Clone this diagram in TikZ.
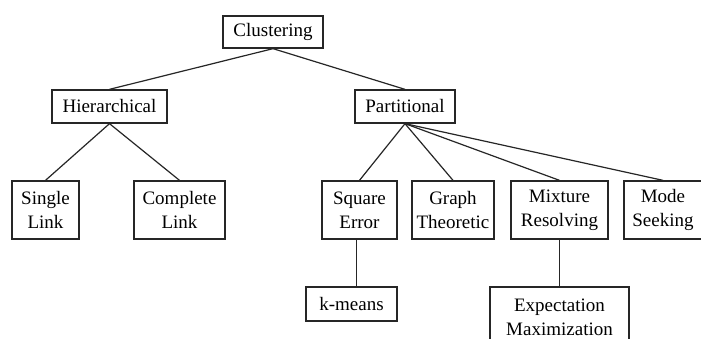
\documentclass[tikz,border=0pt]{standalone}
\usepackage{fontspec}
\setmainfont{Liberation Serif}
\usepackage{tikz}
\usetikzlibrary{calc}

\tikzset{
	box/.style={draw=black!85, line width=1.3pt, inner sep=0pt, align=center,
		font=\fontsize{19}{24}\selectfont},
	link/.style={draw=black!85, line width=1.2pt}
}

\begin{document}
\begin{tikzpicture}[x=1pt,y=-1pt]
				\useasboundingbox[fill=white] (0,0) rectangle (701,339);
				
				\node[box, minimum width=100pt, minimum height=32pt] (clust) at (273,32) {Clustering};
				\node[box, minimum width=115pt, minimum height=33pt] (hier) at (109.5,106.5) {Hierarchical};
				\node[box, minimum width=100pt, minimum height=33pt] (part) at (405,106.5) {Partitional};
				
				\foreach \name/\x/\w/\txt in {single/45.5/67/Single\\Link, complete/179.5/91/Complete\\Link, sqerr/359.5/75/Square\\Error, graph/453/82/Graph\\Theoretic, mixture/559.5/97/Mixture\\Resolving, mode/663/78/Mode\\Seeking}{
					\node[box, minimum width=\w pt, minimum height=58pt] (\name) at (\x,210) {\txt};
				}
				
				\node[box, minimum width=91pt, minimum height=34pt] (kmeans) at (351.5,304) {k-means};
				\node[box, minimum width=139pt, minimum height=60pt] (em) at (559.5,317) {Expectation\\Maximization};
				
				\draw[link] (clust.south) -- (hier.north);
				\draw[link] (clust.south) -- (part.north);
				\draw[link] (hier.south) -- (single.north);
				\draw[link] (hier.south) -- (complete.north);
				\foreach \c in {sqerr,graph,mixture,mode}{
					\draw[link] (part.south) -- (\c.north);
				}
				\coordinate (sqdrop) at ($(sqerr.south)+(-3,0)$);
				\draw[link] (sqdrop) -- (sqdrop |- kmeans.north);
				\draw[link] (mixture.south) -- (mixture.south |- em.north);
			\end{tikzpicture}
\end{document}
